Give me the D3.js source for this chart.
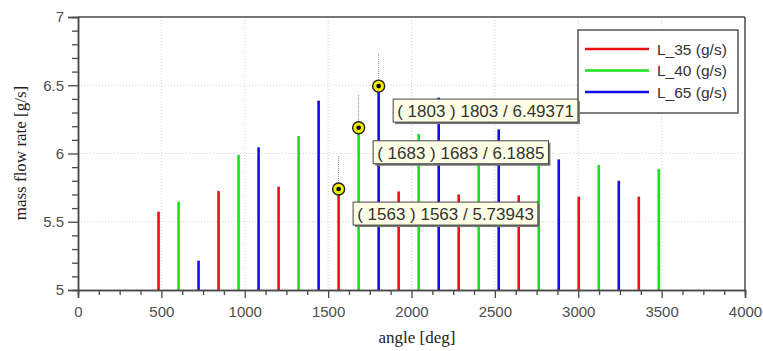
<!DOCTYPE html>
<html>
<head>
<meta charset="utf-8">
<script src="https://cdn.jsdelivr.net/npm/d3@7"></script>
<style>
  body { margin: 0; background: #fff; }
  svg text { font-family: "Liberation Sans", Arial, sans-serif; }
</style>
</head>
<body>
<div id="chart"></div>
<script>
// data
const angles35 = [483, 843, 1203, 1563, 1923, 2283, 2643, 3003, 3363];
const flow35 = [5.574, 5.725, 5.757, 5.73943, 5.722, 5.70, 5.694, 5.684, 5.684];
const angles40 = [603, 963, 1323, 1683, 2043, 2403, 2763, 3123, 3483];
const flow40 = [5.647, 5.989, 6.128, 6.1885, 6.143, 6.05, 5.96, 5.916, 5.886];
const angles65 = [723, 1083, 1443, 1803, 2163, 2523, 2883, 3243];
const flow65 = [5.215, 6.045, 6.387, 6.49371, 6.409, 6.177, 5.957, 5.80];
const seriesNames = ["L_35 (g/s)", "L_40 (g/s)", "L_65 (g/s)"];
const seriesColors = ["#f01010", "#1de01d", "#1010e6"];
const xTicks = [0, 500, 1000, 1500, 2000, 2500, 3000, 3500, 4000];
const yTicks = [5, 5.5, 6, 6.5, 7];
// picked points: series index + angle
const pickSeries = [0, 1, 2];
const pickAngles = [1563, 1683, 1803];

const W = 763, H = 351;
const margin = {top: 17, right: 18, bottom: 61, left: 78};
const width = W - margin.left - margin.right,
      height = H - margin.top - margin.bottom;

const series = [
  {angles: angles35, values: flow35},
  {angles: angles40, values: flow40},
  {angles: angles65, values: flow65}
];

const svg = d3.select("#chart").append("svg")
    .attr("width", W)
    .attr("height", H);

const g = svg.append("g")
    .attr("transform", "translate(" + margin.left + "," + margin.top + ")");

const x = d3.scaleLinear().domain([0, 4000]).range([0, width]);
const y = d3.scaleLinear().domain([5, 7]).range([height, 0]);

// grid
g.append("g").selectAll("line")
    .data(xTicks.slice(1, -1))
    .enter().append("line")
    .attr("x1", d => x(d)).attr("x2", d => x(d))
    .attr("y1", 0).attr("y2", height)
    .attr("stroke", "#d4d4d4").attr("stroke-dasharray", "1,2");
g.append("g").selectAll("line")
    .data(yTicks.slice(1, -1))
    .enter().append("line")
    .attr("y1", d => y(d)).attr("y2", d => y(d))
    .attr("x1", 0).attr("x2", width)
    .attr("stroke", "#d4d4d4").attr("stroke-dasharray", "1,2");

// bars
series.forEach((s, i) => {
  g.append("g").selectAll("line")
      .data(s.angles)
      .enter().append("line")
      .attr("x1", d => x(d)).attr("x2", d => x(d))
      .attr("y1", height)
      .attr("y2", (d, j) => y(s.values[j]))
      .attr("stroke", seriesColors[i])
      .attr("stroke-width", 2.6);
});

// axes
const axisColor = "#4a4a4a";
const minorX = d3.range(0, 4001, 125).filter(d => d % 500 !== 0);
const minorY = d3.range(50, 71, 1).map(d => d / 10).filter(d => (d * 10) % 5 !== 0);

let xa = g.append("g")
    .attr("transform", "translate(0," + height + ")")
    .call(d3.axisBottom(x).tickValues(xTicks).tickSize(8).tickPadding(5)
      .tickFormat(d3.format("d")));
let xm = g.append("g")
    .attr("transform", "translate(0," + height + ")")
    .call(d3.axisBottom(x).tickValues(minorX).tickSize(5).tickFormat(""));
let ya = g.append("g")
    .call(d3.axisLeft(y).tickValues(yTicks).tickSize(10).tickPadding(4)
      .tickFormat(d => String(d)));
let ym = g.append("g")
    .call(d3.axisLeft(y).tickValues(minorY).tickSize(6).tickFormat(""));

[xa, xm, ya, ym].forEach(a => {
  a.select(".domain").attr("stroke", axisColor).attr("stroke-width", 1.5);
  a.selectAll(".tick line").attr("stroke", axisColor).attr("stroke-width", 1.3);
  a.selectAll(".tick text")
      .attr("fill", "#4d4d4d")
      .style("font-size", "15px")
      .style("font-family", "Liberation Sans, Arial, sans-serif");
});
xa.selectAll(".tick text").attr("dy", "0.95em");

// frame top/right
g.append("line").attr("x1", 0).attr("x2", width).attr("y1", 0).attr("y2", 0)
    .attr("stroke", axisColor).attr("stroke-width", 1.5);
g.append("line").attr("x1", width).attr("x2", width).attr("y1", 0).attr("y2", height)
    .attr("stroke", axisColor).attr("stroke-width", 1.5);

// axis titles
svg.append("text")
    .attr("x", 417).attr("y", 343)
    .attr("text-anchor", "middle")
    .style("font-family", "Liberation Serif, Times New Roman, serif")
    .style("font-size", "17px")
    .attr("fill", "#222")
    .text("angle [deg]");
svg.append("text")
    .attr("transform", "translate(26,153) rotate(-90)")
    .attr("text-anchor", "middle")
    .style("font-family", "Liberation Serif, Times New Roman, serif")
    .style("font-size", "17px")
    .attr("fill", "#222")
    .text("mass flow rate [g/s]");

// legend
const leg = svg.append("g").attr("transform", "translate(578,30)");
leg.append("rect")
    .attr("width", 160).attr("height", 83)
    .attr("fill", "#fff").attr("stroke", "#555").attr("stroke-width", 1.5);
seriesNames.forEach((name, i) => {
  let ly = 19 + i * 21.5;
  leg.append("line")
      .attr("x1", 7).attr("x2", 71).attr("y1", ly).attr("y2", ly)
      .attr("stroke", seriesColors[i]).attr("stroke-width", 2.5);
  leg.append("text")
      .attr("x", 79).attr("y", ly + 5.5)
      .style("font-size", "15.5px")
      .attr("fill", "#333")
      .text(name);
});

// picked points with labels
pickAngles.forEach((a, k) => {
  const s = series[pickSeries[k]];
  const v = s.values[s.angles.indexOf(a)];
  const px = x(a) + margin.left, py = y(v) + margin.top;

  svg.append("line")
      .attr("x1", px).attr("x2", px).attr("y1", py - 6).attr("y2", py - 34)
      .attr("stroke", "#888").attr("stroke-dasharray", "1,1");
  svg.append("circle")
      .attr("cx", px).attr("cy", py).attr("r", 6)
      .attr("fill", "#f5ec00").attr("stroke", "#222").attr("stroke-width", 1.4);
  svg.append("circle")
      .attr("cx", px).attr("cy", py).attr("r", 2.3)
      .attr("fill", "#000");

  const tip = svg.append("g").attr("transform", "translate(" + (px + 14.5) + "," + (py + 13) + ")");
  const shadow = tip.append("rect").attr("x", 2).attr("y", 2).attr("height", 23).attr("fill", "#777");
  const box = tip.append("rect").attr("height", 23)
      .attr("fill", "#fefee6").attr("stroke", "#444").attr("stroke-width", 1);
  const t = tip.append("text")
      .attr("x", 4).attr("y", 18)
      .style("font-size", "17px")
      .attr("fill", "#333")
      .text("( " + a + " ) " + a + " / " + v);
  const tw = t.node().getComputedTextLength() + 8;
  box.attr("width", tw);
  shadow.attr("width", tw);
});
</script>
</body>
</html>
